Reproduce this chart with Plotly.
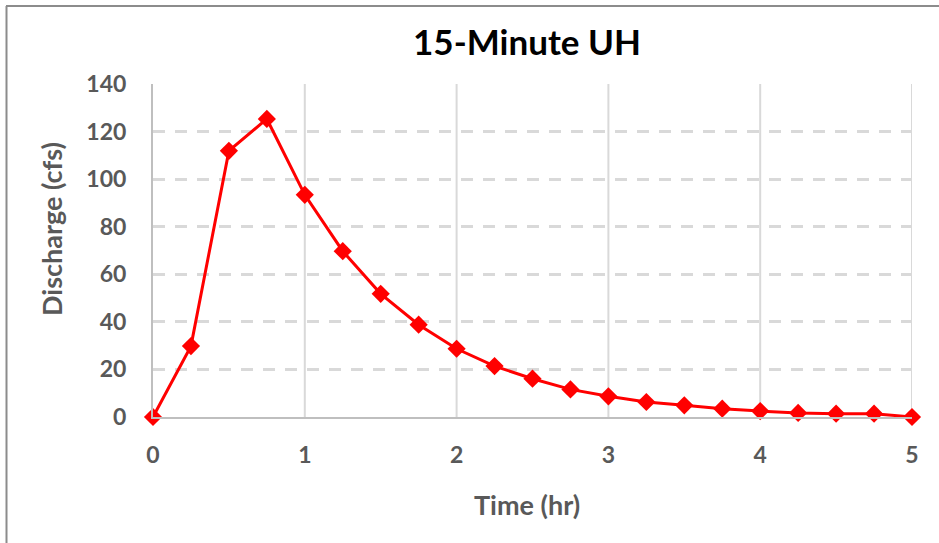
import plotly.graph_objects as go

# 15-minute unit hydrograph ordinates
time_hr = [0, 0.25, 0.5, 0.75, 1.0, 1.25, 1.5, 1.75, 2.0, 2.25, 2.5,
           2.75, 3.0, 3.25, 3.5, 3.75, 4.0, 4.25, 4.5, 4.75, 5.0]
discharge_cfs = [0, 29.8, 111.9, 125.3, 93.4, 69.7, 51.8, 38.8, 28.7, 21.4, 16.1,
                 11.6, 8.7, 6.3, 4.9, 3.5, 2.5, 1.7, 1.4, 1.4, 0]

x_ticks = [0, 1, 2, 3, 4, 5]
y_ticks = [0, 20, 40, 60, 80, 100, 120, 140]

W, H = 939, 543
L, R, T, B = 153, 27, 84, 126
font_family = "Lato, 'Open Sans', sans-serif"
gray_text = "#595959"
grid_color = "#d9d9d9"

fig = go.Figure()
fig.add_trace(go.Scatter(
    x=time_hr, y=discharge_cfs, mode="lines+markers",
    line=dict(color="#FF0000", width=3),
    marker=dict(symbol="diamond", size=14, color="#FF0000"),
    cliponaxis=False,
    showlegend=False,
))

pw, ph = W - L - R, H - T - B


def px_x(p):
    return (p - L) / pw


def px_y(p):
    return (H - B - p) / ph


border = dict(color="#8c8c8c", width=2)
shapes = [
    # chart frame edges (top and left)
    dict(type="line", xref="paper", yref="paper",
         x0=px_x(6), x1=px_x(W + 2), y0=px_y(6), y1=px_y(6), line=border, layer="below"),
    dict(type="line", xref="paper", yref="paper",
         x0=px_x(6.5), x1=px_x(6.5), y0=px_y(6), y1=px_y(H + 2), line=border, layer="below"),
]
# solid vertical gridlines
for xv in x_ticks[1:]:
    shapes.append(dict(type="line", xref="x", yref="y", x0=xv, x1=xv, y0=0, y1=140,
                       line=dict(color=grid_color, width=2), layer="below"))

annotations = [
    dict(text="<b>Time (hr)</b>", xref="paper", yref="paper",
         x=px_x(527), y=px_y(504), xanchor="center", yanchor="middle", showarrow=False,
         font=dict(family=font_family, size=27, color=gray_text)),
    dict(text="<b>Discharge (cfs)</b>", xref="paper", yref="paper", textangle=-90,
         x=px_x(52), y=px_y(229), xanchor="center", yanchor="middle", showarrow=False,
         font=dict(family=font_family, size=27, color=gray_text)),
]

fig.update_layout(
    width=W, height=H,
    margin=dict(l=L, r=R, t=T, b=B),
    paper_bgcolor="white", plot_bgcolor="white",
    title=dict(text="<b>15-Minute UH</b>", x=527 / W, xanchor="center",
               y=1 - 43 / H, yanchor="middle",
               font=dict(family=font_family, size=35, color="black")),
    xaxis=dict(range=[0, 5], tickvals=x_ticks, ticktext=[f"<b>{v}</b>" for v in x_ticks],
               showgrid=False, zeroline=False, showline=True, linecolor="#bfbfbf", linewidth=2,
               ticks="", ticklen=0, ticklabelstandoff=16,
               tickfont=dict(family=font_family, size=23, color=gray_text)),
    yaxis=dict(range=[0, 140], tickvals=y_ticks, ticktext=[f"<b>{v}</b>" for v in y_ticks],
               showgrid=True, gridcolor=grid_color, gridwidth=3, griddash="12px,10px",
               zeroline=False, showline=True, linecolor="#bfbfbf", linewidth=2,
               ticks="", ticklen=0, ticklabelstandoff=20,
               tickfont=dict(family=font_family, size=23, color=gray_text)),
    shapes=shapes,
    annotations=annotations,
)

fig.write_html("out.html")
